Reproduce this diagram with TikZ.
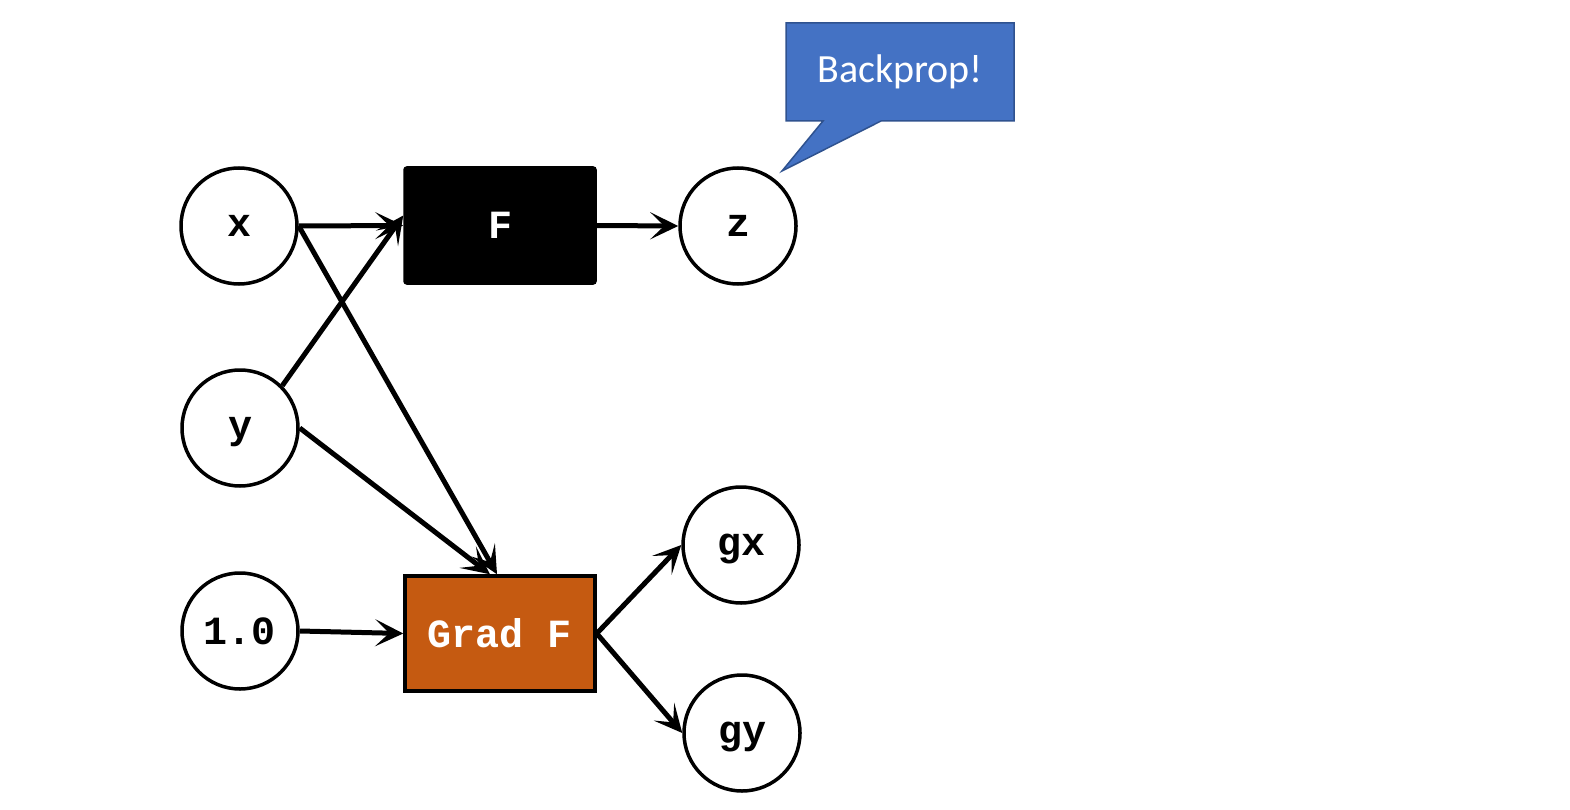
\documentclass[tikz,border=0pt]{standalone}
\usepackage{fontspec}
\setmainfont{Liberation Mono}
\newfontfamily\calfont{Carlito}
\usetikzlibrary{arrows.meta}
\definecolor{gradorange}{HTML}{C55A11}
\definecolor{bpblue}{HTML}{4472C4}
\definecolor{bpborder}{HTML}{2F528F}
\begin{document}
\begin{tikzpicture}[x=1pt,y=-1pt,
  var/.style={circle,draw=black,line width=3.5pt,minimum size=116pt,inner sep=0pt,text depth=0pt,font=\fontsize{40}{44}\selectfont\bfseries},
  opbox/.style={rectangle,draw=black,line width=3.5pt,minimum width=190pt,minimum height=115pt,inner sep=0pt,text=white,font=\fontsize{40}{44}\selectfont\bfseries},
  conn/.style={line width=5pt,-{Stealth[length=28pt,width=27pt,inset=14pt]}}]
\useasboundingbox (0,0) rectangle (1570,810);
\node[var] (x) at (239,226) {x};
\node[var] (y) at (240,428) {y};
\node[var] (one) at (240,631) {1.0};
\node[opbox,fill=black,rounded corners=2pt] (F) at (500,225.5) {F};
\node[var] (z) at (738,226) {z};
\node[opbox,fill=gradorange] (G) at (500,633.5) {Grad F};
\node[var] (gx) at (741,545) {gx};
\node[var] (gy) at (742,733) {gy};
\draw[fill=bpblue,draw=bpborder,line width=1.5pt]
  (786,23) -- (1014,23) -- (1014,121) -- (881,121) -- (782,171) -- (823,121) -- (786,121) -- cycle;
\node[text=white,font=\calfont\fontsize{40}{44}\selectfont] (bp) at (900,72) {Backprop!};
\draw[conn] (x.east) -- (F.west);
\draw[conn] (x.east) -- ([xshift=-3pt]G.north);
\draw[conn] (y.45) -- ([yshift=10pt]F.west);
\draw[conn] (y.east) -- ([xshift=-10pt]G.north);
\draw[conn] (one.east) -- (G.west);
\draw[conn] (F.east) -- (z.west);
\draw[conn] (G.east) -- (gx.west);
\draw[conn] (G.east) -- (gy.west);
\end{tikzpicture}
\end{document}
